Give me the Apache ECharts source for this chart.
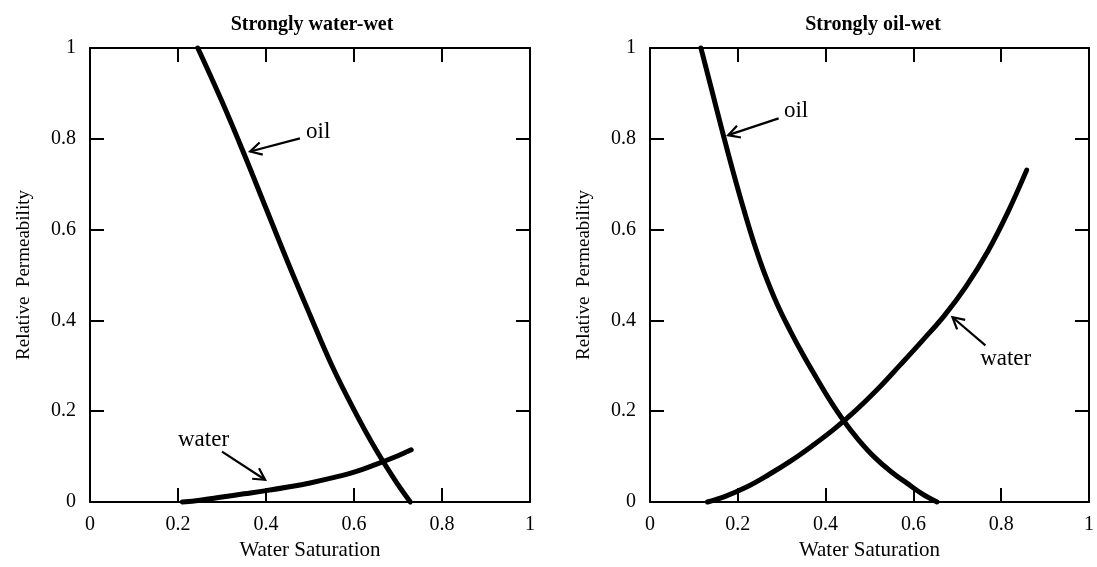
<!DOCTYPE html>
<html><head><meta charset="utf-8">
<script src="https://cdn.jsdelivr.net/npm/echarts@6/dist/echarts.min.js"></script>
<style>html,body{margin:0;padding:0;background:#fff}#c{width:1097px;height:567px}</style>
</head><body><div id="c"></div>
<script>
// ---- data (Sw, kr) ----
const titles = ['Strongly water-wet', 'Strongly oil-wet'];
const waterWetOil = [[0.245,1.0],[0.30,0.882],[0.35,0.767],[0.40,0.647],[0.45,0.527],[0.50,0.412],[0.55,0.30],[0.60,0.203],[0.65,0.115],[0.70,0.038],[0.728,0]];
const waterWetWater = [[0.21,0],[0.25,0.004],[0.30,0.011],[0.35,0.018],[0.40,0.025],[0.45,0.033],[0.50,0.042],[0.55,0.053],[0.60,0.066],[0.65,0.083],[0.70,0.102],[0.73,0.115]];
const oilWetOil = [[0.116,1.0],[0.14,0.91],[0.166,0.812],[0.19,0.725],[0.214,0.643],[0.237,0.57],[0.26,0.506],[0.29,0.435],[0.32,0.376],[0.35,0.322],[0.38,0.272],[0.41,0.224],[0.442,0.178],[0.475,0.137],[0.51,0.10],[0.55,0.066],[0.586,0.041],[0.62,0.018],[0.654,0]];
const oilWetWater = [[0.131,0],[0.17,0.012],[0.22,0.033],[0.27,0.06],[0.32,0.09],[0.37,0.124],[0.42,0.161],[0.47,0.203],[0.52,0.25],[0.57,0.302],[0.62,0.355],[0.67,0.41],[0.72,0.475],[0.77,0.553],[0.815,0.638],[0.858,0.731]];
// annotation labels: [Sw, kr, text]; arrows: [Sw1, kr1, Sw2, kr2]
const leftLabels = [[0.491,0.816,'oil'],[0.200,0.137,'water']];
const leftArrows = [[0.477,0.801,0.364,0.772],[0.300,0.111,0.398,0.049]];
const rightLabels = [[0.305,0.861,'oil'],[0.752,0.314,'water']];
const rightArrows = [[0.293,0.845,0.178,0.808],[0.764,0.345,0.689,0.407]];

const FONT = '"Liberation Serif", "Times New Roman", serif';
const chart = echarts.init(document.getElementById('c'));

function xAx(grid, top) {
  return {
    type: 'value', gridIndex: grid, min: 0, max: 1, interval: 0.2,
    position: top ? 'top' : 'bottom',
    name: top ? '' : 'Water Saturation', nameLocation: 'middle', nameGap: 38,
    nameTextStyle: {fontFamily: FONT, fontSize: 21, color: '#000'},
    axisLine: {show: true, onZero: false, lineStyle: {color: '#000', width: 2}},
    axisTick: {show: true, inside: true, length: 14, lineStyle: {color: '#000', width: 2}},
    axisLabel: {show: !top, fontFamily: FONT, fontSize: 20, color: '#000', margin: 13,
      formatter: v => String(+v.toFixed(1))},
    splitLine: {show: false}
  };
}
function yAx(grid, right) {
  return {
    type: 'value', gridIndex: grid, min: 0, max: 1, interval: 0.2,
    position: right ? 'right' : 'left',
    name: right ? '' : 'Relative  Permeability', nameLocation: 'middle', nameGap: 56,
    nameTextStyle: {fontFamily: FONT, fontSize: 19, color: '#000'},
    axisLine: {show: true, onZero: false, lineStyle: {color: '#000', width: 2}},
    axisTick: {show: true, inside: true, length: 14, lineStyle: {color: '#000', width: 2}},
    axisLabel: {show: !right, fontFamily: FONT, fontSize: 20, color: '#000', margin: 14,
      formatter: v => String(+v.toFixed(1))},
    splitLine: {show: false}
  };
}
function curve(data, xi) {
  return {type: 'line', xAxisIndex: xi, yAxisIndex: xi, data: data, smooth: 0.4,
    showSymbol: false, symbol: 'none', clip: false, silent: true,
    lineStyle: {color: '#000', width: 5, cap: 'round', join: 'round'}};
}
function labels(data, xi) {
  return {type: 'custom', xAxisIndex: xi, yAxisIndex: xi, data: data, silent: true, clip: false,
    renderItem: function (params, api) {
      const d = data[params.dataIndex];
      const p = api.coord([d[0], d[1]]);
      return {type: 'text', x: p[0], y: p[1],
        style: {text: d[2], font: '23px ' + FONT, fill: '#000', align: 'left', verticalAlign: 'middle'}};
    }};
}
function arrows(data, xi) {
  return {type: 'custom', xAxisIndex: xi, yAxisIndex: xi, data: data, silent: true, clip: false,
    renderItem: function (params, api) {
      const p1 = api.coord([api.value(0), api.value(1)]);
      const p2 = api.coord([api.value(2), api.value(3)]);
      const a = Math.atan2(p2[1] - p1[1], p2[0] - p1[0]);
      const L = 13, h = 0.5;
      const h1 = [p2[0] - L * Math.cos(a - h), p2[1] - L * Math.sin(a - h)];
      const h2 = [p2[0] - L * Math.cos(a + h), p2[1] - L * Math.sin(a + h)];
      return {type: 'group', children: [
        {type: 'line', shape: {x1: p1[0], y1: p1[1], x2: p2[0], y2: p2[1]}, style: {stroke: '#000', lineWidth: 2.2}},
        {type: 'polyline', shape: {points: [h1, p2, h2]}, style: {stroke: '#000', lineWidth: 2.2, fill: null}}
      ]};
    }};
}

chart.setOption({
  backgroundColor: '#fff',
  animation: false,
  title: [
    {text: titles[0], left: 307, top: 10, textAlign: 'center', textStyle: {fontFamily: FONT, fontSize: 20, fontWeight: 'bold', color: '#000'}},
    {text: titles[1], left: 868, top: 10, textAlign: 'center', textStyle: {fontFamily: FONT, fontSize: 20, fontWeight: 'bold', color: '#000'}}
  ],
  grid: [
    {left: 90, right: 567, top: 48, bottom: 65},
    {left: 650, right: 7, top: 48, bottom: 65}
  ],
  xAxis: [xAx(0, false), xAx(0, true), xAx(1, false), xAx(1, true)],
  yAxis: [yAx(0, false), yAx(0, true), yAx(1, false), yAx(1, true)],
  series: [
    curve(waterWetOil, 0), curve(waterWetWater, 0),
    curve(oilWetOil, 2), curve(oilWetWater, 2),
    labels(leftLabels, 0), labels(rightLabels, 2),
    arrows(leftArrows, 0), arrows(rightArrows, 2)
  ]
});
</script></body></html>
